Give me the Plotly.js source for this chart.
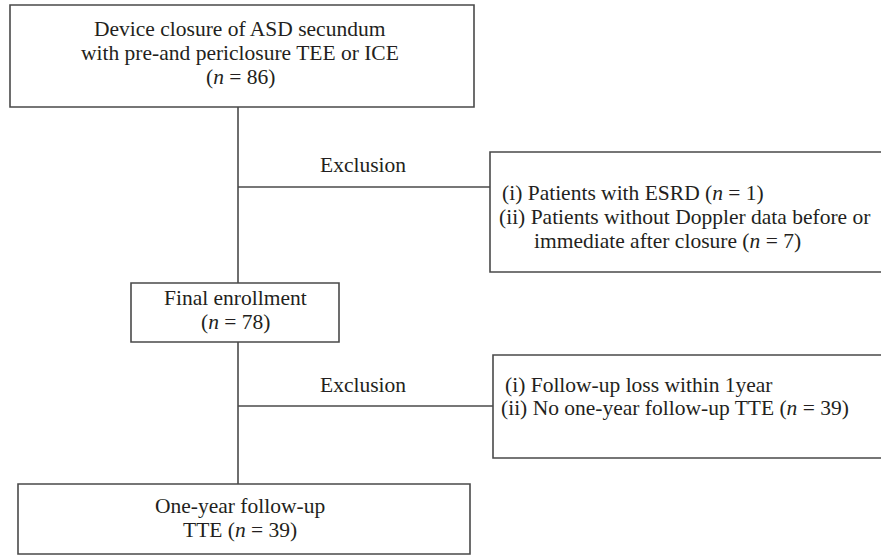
<!DOCTYPE html>
<html>
<head>
<meta charset="utf-8">
<script src="https://cdn.plot.ly/plotly-3.0.1.min.js"></script>
<style>html,body{margin:0;padding:0;background:#fff;}#chart{width:881px;height:556px;}</style>
</head>
<body>
<div id="chart"></div>
<script>
// ---- data ----
const stageLabels = [["Device closure of ASD secundum", "with pre-and periclosure TEE or ICE"], ["Final enrollment"], ["One-year follow-up", "TTE"]];
const stageCounts = [86, 78, 39];
const exclusionTitle = ["Exclusion", "Exclusion"];
const exclusion1Items = ["Patients with ESRD", "Patients without Doppler data before or", "immediate after closure"];
const exclusion1Counts = [1, null, 7];
const exclusion2Items = ["Follow-up loss within 1year", "No one-year follow-up TTE"];
const exclusion2Counts = [null, 39];
const itemMarks = ["(i)", "(ii)", ""];

// ---- layout geometry ----
const LINE = "#4a4a4a";
const FONT = {family: "Liberation Serif, Times New Roman, serif", size: 21.5, color: "#231f20"};
const boxes = [
  {x0: 10, y0: 5, x1: 474, y1: 107},
  {x0: 490, y0: 152, x1: 895, y1: 272},
  {x0: 131, y0: 283, x1: 339, y1: 342},
  {x0: 493, y0: 355, x1: 895, y1: 458},
  {x0: 18, y0: 484, x1: 470, y1: 554}
];
const shapes = boxes.map(b => ({type: "rect", xref: "x", yref: "y", x0: b.x0, y0: b.y0, x1: b.x1, y1: b.y1, line: {color: LINE, width: 1.6}, fillcolor: "rgba(0,0,0,0)"}));
const lines = [
  [238, 107, 238, 283],
  [238, 187, 490, 187],
  [238, 342, 238, 484],
  [238, 406, 493, 406]
];
lines.forEach(l => shapes.push({type: "line", xref: "x", yref: "y", x0: l[0], y0: l[1], x1: l[2], y1: l[3], line: {color: LINE, width: 1.6}}));

function nTxt(v) { return "(<i>n</i> = " + v + ")"; }

const ann = [];
function add(text, x, y, xanchor) {
  ann.push({text: text, x: x, y: y, xref: "x", yref: "y", xanchor: xanchor || "center", yanchor: "middle", showarrow: false, font: FONT, align: xanchor === "left" ? "left" : "center"});
}
// stage boxes
add(stageLabels[0][0], 240, 29);
add(stageLabels[0][1], 240, 53);
add(nTxt(stageCounts[0]), 240, 77);
add(stageLabels[1][0], 235, 298);
add(nTxt(stageCounts[1]), 235, 322);
add(stageLabels[2][0], 240, 506);
add(stageLabels[2][1] + " " + nTxt(stageCounts[2]), 240, 530);
// exclusion titles
add(exclusionTitle[0], 363, 165);
add(exclusionTitle[1], 363, 385);
// exclusion box 1
const ex1x = [500, 497, 532];
const ex1y = [193, 217, 241];
exclusion1Items.forEach((t, i) => {
  const mark = itemMarks[i] ? itemMarks[i] + " " : "";
  const cnt = exclusion1Counts[i] !== null ? " " + nTxt(exclusion1Counts[i]) : "";
  add(mark + t + cnt, ex1x[i], ex1y[i], "left");
});
// exclusion box 2
const ex2x = [503, 499];
const ex2y = [385, 408];
exclusion2Items.forEach((t, i) => {
  const cnt = exclusion2Counts[i] !== null ? " " + nTxt(exclusion2Counts[i]) : "";
  add(itemMarks[i] + " " + t + cnt, ex2x[i], ex2y[i], "left");
});

const layout = {
  width: 881, height: 556,
  margin: {l: 0, r: 0, t: 0, b: 0},
  paper_bgcolor: "#fff", plot_bgcolor: "#fff",
  xaxis: {range: [0, 881], visible: false, fixedrange: true},
  yaxis: {range: [556, 0], visible: false, fixedrange: true},
  shapes: shapes,
  annotations: ann,
  showlegend: false
};
Plotly.newPlot("chart", [], layout, {staticPlot: true, displayModeBar: false});
</script>
</body>
</html>
